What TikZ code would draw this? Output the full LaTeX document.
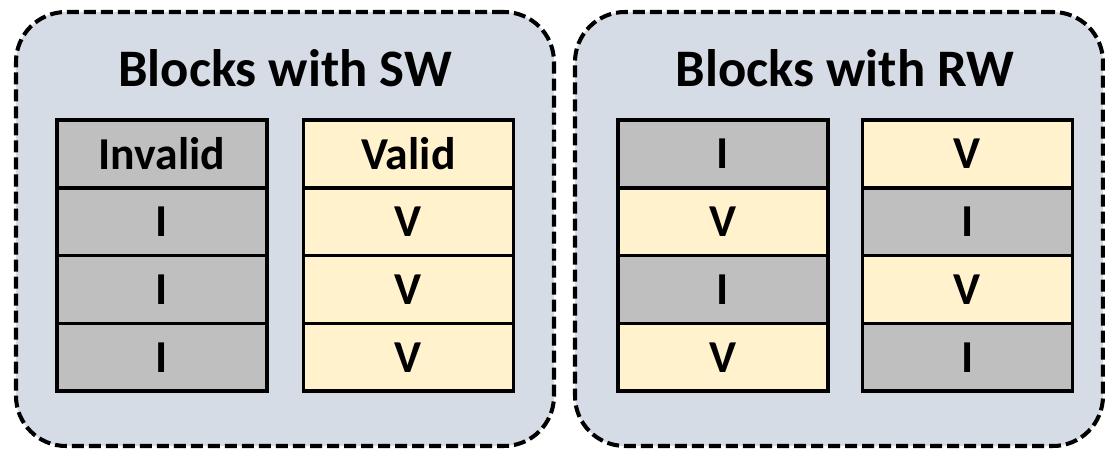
\documentclass[tikz,border=0pt]{standalone}
\usepackage{fontspec}
\setmainfont{Carlito}
\usepackage{tikz}
\usetikzlibrary{positioning}
\definecolor{PanelBlue}{HTML}{D6DCE5}
\definecolor{CellGray}{HTML}{BFBFBF}
\definecolor{CellYellow}{HTML}{FFF2CC}
\tikzset{
  panel/.style={rectangle,rounded corners=1cm,draw=black,fill=PanelBlue,
                line width=2.3pt,dash pattern=on 0.24cm off 0.1cm},
  ttl/.style={font=\fontsize{30}{36}\selectfont\bfseries},
  inv/.style={rectangle,draw=black,fill=CellGray,line width=2.1pt,outer sep=0pt,
              minimum width=4.2cm,minimum height=1.355cm,
              font=\fontsize{26}{31}\selectfont\bfseries},
  val/.style={inv,fill=CellYellow},
}

\begin{document}
\begin{tikzpicture}
  \useasboundingbox (0,0) rectangle (22.1,9);

  % the two groups
  \node[panel, minimum width=10.76cm, minimum height=8.68cm] (swpanel) at (5.70,4.42) {};
  \node[panel, minimum width=10.56cm, minimum height=8.68cm] (rwpanel) at (16.78,4.42) {};
  \node[ttl] (swtitle) at (5.70,7.64) {Blocks with SW};
  \node[ttl] (rwtitle) at (16.90,7.64) {Blocks with RW};

  % SW: one block all invalid, one all valid
  \node[inv] (swa1) at (3.24,5.92) {Invalid};
  \node[inv, below=0pt of swa1] (swa2) {I};
  \node[inv, below=0pt of swa2] (swa3) {I};
  \node[inv, below=0pt of swa3] (swa4) {I};

  \node[val] (swb1) at (8.17,5.92) {Valid};
  \node[val, below=0pt of swb1] (swb2) {V};
  \node[val, below=0pt of swb2] (swb3) {V};
  \node[val, below=0pt of swb3] (swb4) {V};

  % RW: mixed blocks
  \node[inv] (rwa1) at (14.46,5.92) {I};
  \node[val, below=0pt of rwa1] (rwa2) {V};
  \node[inv, below=0pt of rwa2] (rwa3) {I};
  \node[val, below=0pt of rwa3] (rwa4) {V};

  \node[val] (rwb1) at (19.35,5.92) {V};
  \node[inv, below=0pt of rwb1] (rwb2) {I};
  \node[val, below=0pt of rwb2] (rwb3) {V};
  \node[inv, below=0pt of rwb3] (rwb4) {I};
\end{tikzpicture}
\end{document}
